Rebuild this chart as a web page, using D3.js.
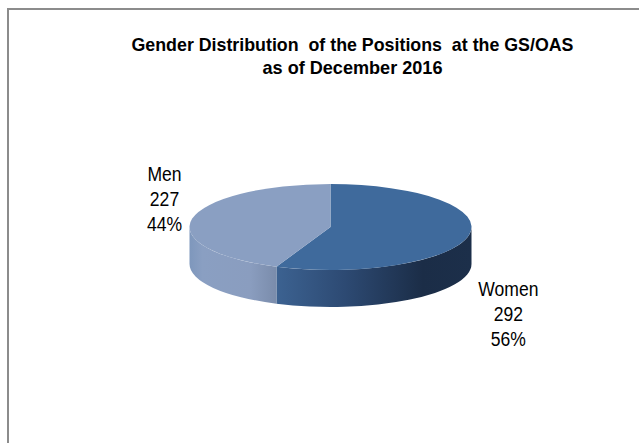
<!DOCTYPE html>
<html>
<head>
<meta charset="utf-8">
<script src="https://cdn.jsdelivr.net/npm/d3@7"></script>
<style>
  html, body { margin: 0; padding: 0; background: #fff; }
  svg { display: block; }
  text { font-family: "Liberation Sans", Arial, sans-serif; fill: #000; }
</style>
</head>
<body>
<svg id="chart" width="639" height="443"></svg>
<script>
const categories = ['Women', 'Men'];
const counts = [292, 227];
const shares = ['56%', '44%'];
const topColors = ['#3f6a9c', '#8a9fc2'];
const titleLines = ['Gender Distribution  of the Positions  at the GS/OAS', 'as of December 2016'];

const WIDTH = 639;
const HEIGHT = 443;
const PIE = { cx: 330.5, cy: 227, rx: 141, ry: 43, depth: 37 };

const svg = d3.select('#chart');

// frame only shows on the top and left edges
svg.append('path')
  .attr('d', `M8,${HEIGHT}V9H${WIDTH}`)
  .attr('fill', 'none')
  .attr('stroke', '#8c8c8c')
  .attr('stroke-width', 2);

// the source font is a bit narrower than Liberation, so squeeze to the measured width
const titleWidths = [442, 180];
svg.selectAll('.title')
  .data(titleLines)
  .join('text')
  .attr('class', 'title')
  .attr('x', 352.5)
  .attr('y', (d, i) => 50.5 + i * 23)
  .attr('text-anchor', 'middle')
  .attr('font-weight', 'bold')
  .attr('font-size', 18.5)
  .attr('textLength', (d, i) => titleWidths[i])
  .attr('lengthAdjust', 'spacingAndGlyphs')
  .style('white-space', 'pre')
  .text((d) => d);

const slices = d3.pie().sort(null)(counts);
const px = (a) => PIE.cx + PIE.rx * Math.sin(a);
const py = (a) => PIE.cy - PIE.ry * Math.cos(a);

const defs = svg.append('defs');
const sideStops = [
  [['0%', '#3c6291'], ['35%', '#2d4a73'], ['75%', '#1b2d47'], ['100%', '#1c2f4a']],
  [['0%', '#7e97bc'], ['15%', '#8a9fc2'], ['70%', '#8a9dbf'], ['100%', '#7a8cab']],
];

// visible wall runs between the two ends of the ellipse (pi/2 .. 3pi/2)
const wallPath = (s) => {
  const a0 = Math.max(s.startAngle, Math.PI / 2);
  const a1 = Math.min(s.endAngle, (3 * Math.PI) / 2);
  return `M${px(a0)},${py(a0)}`
    + `A${PIE.rx},${PIE.ry} 0 0 1 ${px(a1)},${py(a1)}`
    + `V${py(a1) + PIE.depth}`
    + `A${PIE.rx},${PIE.ry} 0 0 0 ${px(a0)},${py(a0) + PIE.depth}Z`;
};

slices.forEach((s, i) => {
  const a0 = Math.max(s.startAngle, Math.PI / 2);
  const a1 = Math.min(s.endAngle, (3 * Math.PI) / 2);
  const g = defs.append('linearGradient')
    .attr('id', `side-${i}`)
    .attr('gradientUnits', 'userSpaceOnUse')
    .attr('x1', Math.min(px(a0), px(a1)))
    .attr('x2', Math.max(px(a0), px(a1)))
    .attr('y1', 0)
    .attr('y2', 0);
  sideStops[i].forEach(([offset, color]) => {
    g.append('stop').attr('offset', offset).attr('stop-color', color);
  });
});

svg.append('g')
  .selectAll('path')
  .data(slices)
  .join('path')
  .attr('d', wallPath)
  .attr('fill', (d, i) => `url(#side-${i})`);

const arc = d3.arc().innerRadius(0).outerRadius(PIE.rx);

svg.append('g')
  .attr('transform', `translate(${PIE.cx},${PIE.cy}) scale(1,${PIE.ry / PIE.rx})`)
  .selectAll('path')
  .data(slices)
  .join('path')
  .attr('d', arc)
  .attr('fill', (d, i) => topColors[i]);

const labelPos = [
  { x: 508.4, y: 296 },
  { x: 164.5, y: 181 },
];

const labels = svg.append('g')
  .selectAll('g')
  .data(categories)
  .join('g')
  .attr('transform', (d, i) => `translate(${labelPos[i].x},${labelPos[i].y}) scale(0.9,1)`);

labels.selectAll('text')
  .data((d, i) => [d, counts[i], shares[i]])
  .join('text')
  .attr('y', (d, i) => i * 25)
  .attr('text-anchor', 'middle')
  .attr('font-size', 19.5)
  .text((d) => d);
</script>
</body>
</html>
